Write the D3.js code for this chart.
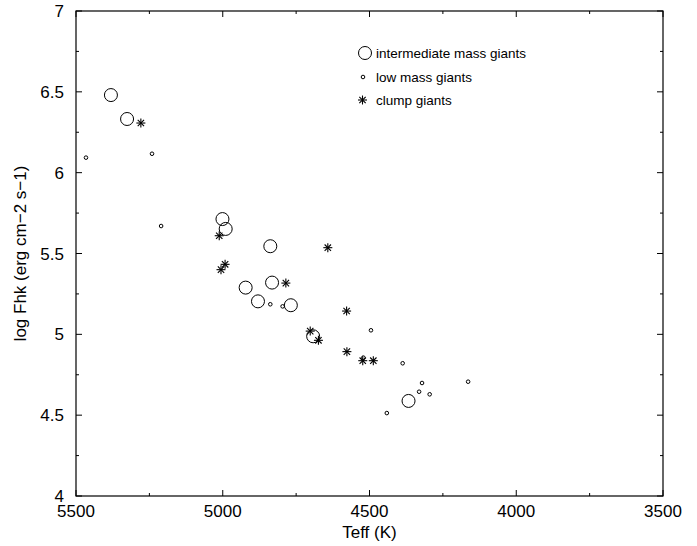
<!DOCTYPE html>
<html><head><meta charset="utf-8">
<script src="https://cdn.jsdelivr.net/npm/d3@7"></script>
<style>body{margin:0;background:#fff}svg{display:block}text{font-family:"Liberation Sans",Arial,sans-serif;fill:#000}</style>
</head><body>
<script>
// Data: [Teff (K), log Fhk]
const intermediateMass = [[5381,6.48],[5326,6.332],[5001,5.713],[4990,5.652],[4838,5.545],[4922,5.289],[4832,5.32],[4880,5.204],[4768,5.18],[4692,4.988],[4367,4.588]];
const lowMass = [[5466,6.093],[5241,6.117],[5210,5.67],[4838,5.186],[4796,5.173],[4495,5.025],[4521,4.856],[4387,4.821],[4321,4.699],[4331,4.645],[4295,4.629],[4164,4.707],[4441,4.513]];
const clump = [[5279,6.307],[5012,5.61],[4642,5.536],[4992,5.433],[5006,5.40],[4785,5.317],[4578,5.144],[4702,5.02],[4674,4.963],[4577,4.893],[4523,4.837],[4487,4.837]];
const xTicks = [5500,5000,4500,4000,3500];
const yTicks = [4,4.5,5,5.5,6,6.5,7];
const legendLabels = ["intermediate mass giants","low mass giants","clump giants"];

const W=697,H=546, L=76,R=663,T=11,B=496;
const svg=d3.select("body").append("svg").attr("width",W).attr("height",H);
const x=d3.scaleLinear().domain([5500,3500]).range([L,R]);
const y=d3.scaleLinear().domain([4,7]).range([B,T]);

const g=svg.append("g");
g.append("rect").attr("x",L).attr("y",T).attr("width",R-L).attr("height",B-T).attr("fill","none").attr("stroke","#000").attr("stroke-width",1.2);

const xMinor=d3.range(5500,3499,-250), yMinor=d3.range(4,7.001,0.25);
function xt(v,len){ g.append("line").attr("x1",x(v)).attr("x2",x(v)).attr("y1",B).attr("y2",B-len).attr("stroke","#000");
  g.append("line").attr("x1",x(v)).attr("x2",x(v)).attr("y1",T).attr("y2",T+len).attr("stroke","#000");}
function yt(v,len){ g.append("line").attr("y1",y(v)).attr("y2",y(v)).attr("x1",L).attr("x2",L+len).attr("stroke","#000");
  g.append("line").attr("y1",y(v)).attr("y2",y(v)).attr("x1",R).attr("x2",R-len).attr("stroke","#000");}
xMinor.forEach(v=>xt(v, xTicks.includes(v)?6:3));
yMinor.forEach(v=>yt(v, (Math.abs(v*2-Math.round(v*2))<1e-6)?6:3));

xTicks.forEach(v=>g.append("text").attr("x",x(v)).attr("y",B+21).attr("text-anchor","middle").attr("font-size",17).text(v));
yTicks.forEach(v=>g.append("text").attr("x",L-12).attr("y",y(v)+6).attr("text-anchor","end").attr("font-size",17).text(v));

g.append("text").attr("x",(L+R)/2).attr("y",538).attr("text-anchor","middle").attr("font-size",17).text("Teff (K)");
g.append("text").attr("transform",`translate(26,${(T+B)/2}) rotate(-90)`).attr("text-anchor","middle").attr("font-size",17).text("log Fhk (erg cm\u22122 s\u22121)");

function star(sel,cx,cy,r){
  const s=sel.append("g").attr("transform",`translate(${cx},${cy})`);
  [0,45,90,135].forEach(a=>{const rad=a*Math.PI/180;
    s.append("line").attr("x1",-r*Math.cos(rad)).attr("y1",-r*Math.sin(rad)).attr("x2",r*Math.cos(rad)).attr("y2",r*Math.sin(rad)).attr("stroke","#000").attr("stroke-width",1.1);});
}
const pts=svg.append("g");
intermediateMass.forEach(d=>pts.append("circle").attr("cx",x(d[0])).attr("cy",y(d[1])).attr("r",6.5).attr("fill","none").attr("stroke","#000").attr("stroke-width",1));
lowMass.forEach(d=>pts.append("circle").attr("cx",x(d[0])).attr("cy",y(d[1])).attr("r",1.8).attr("fill","none").attr("stroke","#000").attr("stroke-width",1));
clump.forEach(d=>star(pts,x(d[0]),y(d[1]),4.5));

const lg=svg.append("g");
const ly=[53,77,100];
lg.append("circle").attr("cx",365).attr("cy",ly[0]).attr("r",6.5).attr("fill","none").attr("stroke","#000");
lg.append("circle").attr("cx",363).attr("cy",ly[1]).attr("r",1.8).attr("fill","none").attr("stroke","#000");
star(lg,362.5,ly[2],4.5);
legendLabels.forEach((t,i)=>lg.append("text").attr("x",376).attr("y",ly[i]+5).attr("font-size",13.5).text(t));
</script>
</body></html>
